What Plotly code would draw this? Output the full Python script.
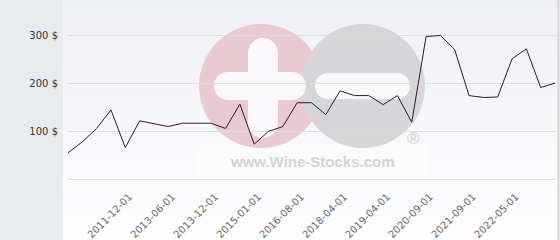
import plotly.graph_objects as go

# ---- data ----
dates = [
    "2010-09-01", "2011-01-01", "2011-05-01", "2011-09-01", "2011-12-01",
    "2012-06-01", "2012-12-01", "2013-06-01", "2013-08-01", "2013-10-01",
    "2013-12-01", "2014-04-01", "2014-08-01", "2015-01-01", "2015-08-01",
    "2016-02-01", "2016-08-01", "2017-01-01", "2017-08-01", "2018-04-01",
    "2018-08-01", "2018-12-01", "2019-04-01", "2019-09-01", "2020-03-01",
    "2020-09-01", "2020-12-01", "2021-04-01", "2021-09-01", "2021-12-01",
    "2022-02-01", "2022-05-01", "2022-09-01", "2023-01-01", "2023-05-01",
]
prices = [
    55, 78, 106, 145, 66,
    122, 116, 110, 117, 117,
    117, 106, 157, 73, 100,
    110, 160, 160, 135, 185,
    175, 175, 156, 175, 119,
    299, 301, 271, 175, 171,
    172, 252, 273, 192, 201,
]
x_tick_labels = [
    "2011-12-01", "2013-06-01", "2013-12-01", "2015-01-01", "2016-08-01",
    "2018-04-01", "2019-04-01", "2020-09-01", "2021-09-01", "2022-05-01",
]
y_tick_values = [100, 200, 300]
y_tick_labels = ["100 $", "200 $", "300 $"]

# ---- geometry helpers (pixel -> paper) ----
W, H = 560, 240
ML, MR, MT, MB = 68, 5, 0, 61
PW, PH = W - ML - MR, H - MT - MB


def px(x):
    return (x - ML) / PW


def py(y):
    return (MT + PH - y) / PH


shapes = []
# left grey panel is the paper colour; gradient background for the rest
N = 48
top_c = (239, 240, 245)
bot_c = (254, 254, 255)
for i in range(N):
    t = i / (N - 1)
    c = tuple(round(top_c[k] + (bot_c[k] - top_c[k]) * t) for k in range(3))
    y0 = i * H / N
    y1 = (i + 1) * H / N + 0.6
    shapes.append(dict(type="rect", xref="paper", yref="paper",
                       x0=px(63), x1=px(557.5), y0=py(y1), y1=py(y0),
                       fillcolor="rgb(%d,%d,%d)" % c, line=dict(width=0),
                       layer="below"))

# watermark: faint white box behind text
shapes.append(dict(type="rect", xref="paper", yref="paper",
                   x0=px(197), x1=px(428), y0=py(175), y1=py(147),
                   fillcolor="rgba(255,255,255,0.35)", line=dict(width=0),
                   layer="below"))


def circle(cx, cy, r, color):
    return dict(type="circle", xref="paper", yref="paper",
                x0=px(cx - r), x1=px(cx + r), y0=py(cy + r), y1=py(cy - r),
                fillcolor=color, line=dict(width=0), layer="below")


def rect(x0, x1, y0, y1, color):
    return dict(type="rect", xref="paper", yref="paper",
                x0=px(x0), x1=px(x1), y0=py(y1), y1=py(y0),
                fillcolor=color, line=dict(width=0), layer="below")


pink = "#e9cad2"
grey = "#d6d6d8"
white = "#f9f9fb"
shapes.append(circle(261, 86, 62, pink))
shapes.append(circle(363, 86, 62, grey))
# plus sign
shapes.append(rect(248, 278, 53, 123, white))
shapes.append(circle(263, 53, 15, white))
shapes.append(circle(263, 123, 15, white))
shapes.append(rect(228, 292, 72, 100, white))
shapes.append(circle(228, 86, 14, white))
shapes.append(circle(292, 86, 14, white))
# minus sign
shapes.append(rect(328, 397, 73, 99, white))
shapes.append(circle(328, 86, 13, white))
shapes.append(circle(397, 86, 13, white))

# right border
shapes.append(dict(type="line", xref="paper", yref="paper",
                   x0=px(558.3), x1=px(558.3), y0=py(240), y1=py(0),
                   line=dict(color="#d8d8d8", width=2), layer="above"))

annotations = [
    dict(text="<b>www.Wine-Stocks.com</b>", xref="paper", yref="paper",
         x=px(312.5), y=py(161), xanchor="center", yanchor="middle",
         showarrow=False,
         font=dict(family="Liberation Sans, Arial", size=15, color="#d2d2d4")),
    dict(text="®", xref="paper", yref="paper",
         x=px(413), y=py(138), xanchor="center", yanchor="middle",
         showarrow=False,
         font=dict(family="Liberation Sans, Arial", size=17, color="#cfcfd1")),
]

fig = go.Figure()
fig.add_trace(go.Scatter(
    x=dates, y=prices, mode="lines",
    line=dict(color="#2e1a28", width=1),
    hoverinfo="x+y", showlegend=False,
))

fig.update_layout(
    width=W, height=H,
    margin=dict(l=ML, r=MR, t=MT, b=MB, pad=0),
    paper_bgcolor="#e7ebee",
    plot_bgcolor="rgba(0,0,0,0)",
    shapes=shapes,
    annotations=annotations,
    showlegend=False,
    font=dict(family="DejaVu Sans, Verdana, sans-serif"),
    xaxis=dict(
        type="category", range=[0, len(dates) - 1],
        tickmode="array", tickvals=x_tick_labels, ticktext=x_tick_labels,
        tickangle=-45, ticks="", showgrid=False, zeroline=False,
        showline=False, automargin=False,
        ticklabelstandoff=9, ticklabelshift=4,
        tickfont=dict(size=10, color="#666666"),
    ),
    yaxis=dict(
        range=[0, 375.5],
        tickmode="array", tickvals=y_tick_values, ticktext=y_tick_labels,
        ticks="", showgrid=True, gridcolor="#dcdcdc", gridwidth=1,
        zeroline=True, zerolinecolor="#dcdcdc", zerolinewidth=1,
        showline=False, automargin=False,
        ticklabelstandoff=9,
        tickfont=dict(size=10, color="#333333"),
    ),
)

fig.write_html("out.html")
